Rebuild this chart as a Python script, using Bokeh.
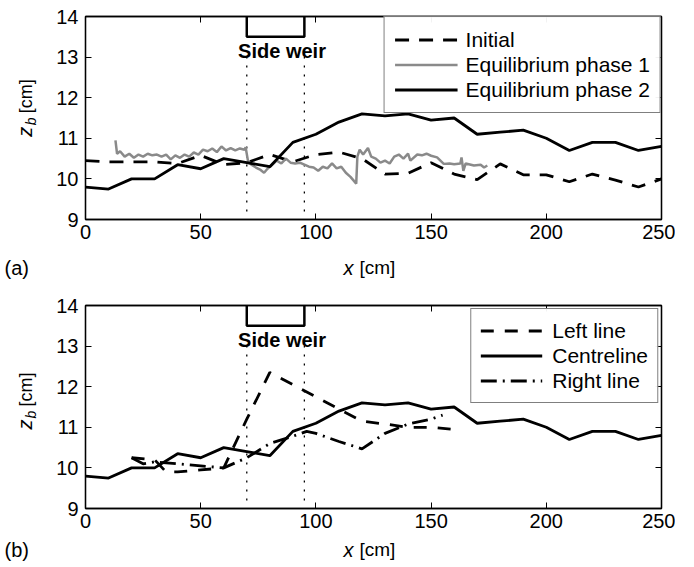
from math import pi
from bokeh.plotting import figure
from bokeh.layouts import column, row
from bokeh.models import Label, LinearAxis, FixedTicker, Range1d
from bokeh.embed import file_html
from bokeh.resources import INLINE

FONT = "Liberation Sans"

# ---------------- data ----------------
x_ticks = [0, 50, 100, 150, 200, 250]
y_ticks = [9, 10, 11, 12, 13, 14]

init_x = [0, 10, 20, 30, 40, 50, 60, 70, 80, 90, 100, 110, 120, 130, 140, 150,
          160, 170, 180, 190, 200, 210, 220, 230, 240, 250]
init_z = [10.45, 10.42, 10.42, 10.42, 10.38, 10.58, 10.35, 10.40, 10.60, 10.42,
          10.60, 10.66, 10.50, 10.12, 10.14, 10.40, 10.12, 9.98, 10.37, 10.10,
          10.10, 9.93, 10.12, 9.97, 9.80, 10.00]

eq1_x = [13.0, 13.7, 15, 17, 19, 21, 23, 25, 27, 29, 31, 33, 35, 37, 39, 41, 43,
         45, 47, 49, 51, 53, 55, 57, 59, 61, 63, 65, 67, 69, 69.5, 70.5, 72, 74,
         76, 77.5, 79, 81, 83, 85, 87, 89, 91, 93, 95, 97, 99, 101, 103, 105, 107,
         109, 111, 113, 115, 116.5, 117.5, 118, 119, 120.5, 122.6, 124, 126, 128,
         130, 132, 134, 136, 138, 140, 141, 144, 146, 148, 150, 152.6, 155.5, 158,
         160, 162.7, 163.2, 164, 165, 168.6, 171.5, 173, 174.4]
eq1_z = [10.95, 10.62, 10.68, 10.55, 10.62, 10.52, 10.60, 10.55, 10.62, 10.58,
         10.60, 10.55, 10.60, 10.48, 10.58, 10.52, 10.60, 10.55, 10.65, 10.60,
         10.72, 10.68, 10.75, 10.66, 10.80, 10.70, 10.76, 10.70, 10.75, 10.72,
         10.78, 10.45, 10.35, 10.28, 10.22, 10.15, 10.25, 10.35, 10.45, 10.38,
         10.50, 10.40, 10.38, 10.40, 10.35, 10.30, 10.28, 10.20, 10.30, 10.26,
         10.38, 10.26, 10.30, 10.15, 10.05, 9.95, 9.88, 10.55, 10.72, 10.60,
         10.76, 10.55, 10.50, 10.40, 10.45, 10.38, 10.55, 10.60, 10.50, 10.62,
         10.45, 10.60, 10.58, 10.62, 10.57, 10.53, 10.37, 10.38, 10.36, 10.38,
         10.53, 10.20, 10.38, 10.33, 10.35, 10.28, 10.33]

eq2_x = [0, 10, 20, 30, 40, 50, 60, 70, 80, 90, 100, 110, 120, 130, 140, 150,
         160, 170, 180, 190, 200, 210, 220, 230, 240, 250]
eq2_z = [9.80, 9.75, 10.00, 10.00, 10.35, 10.25, 10.50, 10.40, 10.30, 10.90,
         11.10, 11.40, 11.60, 11.55, 11.60, 11.45, 11.50, 11.10, 11.15, 11.20,
         11.00, 10.70, 10.90, 10.90, 10.70, 10.80]

left_x = [20, 30, 35, 40, 50, 60, 70, 80, 90, 100, 110, 120, 130, 140, 150, 160]
left_z = [10.25, 10.20, 9.90, 9.90, 9.95, 10.00, 11.20, 12.35, 12.05, 11.75,
          11.45, 11.15, 11.08, 11.00, 11.00, 10.95]

right_x = [20, 25, 30, 40, 50, 60, 70, 80, 90, 96, 100, 110, 120, 130, 140, 150, 155]
right_z = [10.25, 10.10, 10.15, 10.10, 10.05, 10.00, 10.25, 10.60, 10.78, 10.90,
           10.85, 10.65, 10.47, 10.85, 11.08, 11.20, 11.30]

weir_start = 70
weir_end = 95
weir_crest = 13.5
weir_dot_bottom = 9.2
weir_dot_top = 13.0

BLACK = "#000000"
GREY = "#8a8a8a"

YLAB_W = 45
MAIN_W = 630
FRAME_H = 203


def lab(p, x, y, text, size="20px", style="normal", angle=0.0, align="left"):
    p.add_layout(Label(x=x, y=y, text=text, text_font=FONT, text_font_size=size,
                       text_font_style=style, angle=angle, text_align=align,
                       text_baseline="middle", text_color=BLACK))


def strip(width, height):
    f = figure(width=width, height=height, x_range=Range1d(0, width),
               y_range=Range1d(0, height), x_axis_location=None,
               y_axis_location=None, toolbar_location=None, title=None,
               output_backend="svg", min_border=0)
    f.outline_line_color = None
    f.grid.visible = False
    f.background_fill_color = "white"
    f.border_fill_color = "white"
    return f


def ylabel_strip(height, bottom):
    f = strip(YLAB_W, height)
    # z_b [cm], rotated; vertical positions measured from the frame bottom
    rel = FRAME_H + bottom
    lab(f, 24, rel - 132, "z", size="20px", style="italic", angle=pi / 2)
    lab(f, 30, rel - 118, "b", size="14px", style="italic", angle=pi / 2)
    lab(f, 25, rel - 103, "[cm]", size="18px", angle=pi / 2)
    return f


def xlabel_strip(height, mid, tag):
    f = strip(YLAB_W + MAIN_W, height)
    lab(f, 343, mid, "x", size="20px", style="italic")
    lab(f, 359, mid, "[cm]", size="19px")
    lab(f, 4, mid, tag, size="20px")
    return f


def make_panel(border_top, border_bottom, standoff):
    p = figure(frame_width=576, frame_height=FRAME_H, width=MAIN_W,
               height=border_top + FRAME_H + border_bottom, title=None,
               x_range=Range1d(0, 250), y_range=Range1d(9, 14),
               output_backend="svg", toolbar_location=None,
               min_border_left=40, min_border_right=14,
               min_border_top=border_top, min_border_bottom=border_bottom)
    p.grid.visible = False
    p.outline_line_color = BLACK
    p.outline_line_width = 1.3
    p.background_fill_color = "white"
    p.border_fill_color = "white"
    p.xaxis.ticker = FixedTicker(ticks=x_ticks)
    p.yaxis.ticker = FixedTicker(ticks=y_ticks)
    top = LinearAxis(ticker=FixedTicker(ticks=x_ticks),
                     major_label_overrides={t: "" for t in x_ticks})
    right = LinearAxis(ticker=FixedTicker(ticks=y_ticks),
                       major_label_overrides={t: "" for t in y_ticks})
    p.add_layout(top, "above")
    p.add_layout(right, "right")
    for ax in p.axis:
        ax.axis_line_color = BLACK
        ax.axis_line_width = 1.3
        ax.major_tick_in = 6
        ax.major_tick_out = 0
        ax.major_tick_line_color = BLACK
        ax.major_tick_line_width = 1
        ax.minor_tick_line_color = None
        ax.major_label_text_font = FONT
        ax.major_label_text_font_size = "20px"
        ax.major_label_text_color = BLACK
    for ax in (top, right):
        ax.major_label_text_font_size = "1px"
        ax.major_label_standoff = 0
    p.xaxis[0].major_label_standoff = standoff
    p.yaxis[0].major_label_standoff = 7

    # side weir marker
    p.line([weir_start, weir_start, weir_end, weir_end],
           [14, weir_crest, weir_crest, 14], line_color=BLACK, line_width=2.5)
    p.segment(x0=[weir_start, weir_end], y0=[weir_dot_bottom] * 2,
              x1=[weir_start, weir_end], y1=[weir_dot_top] * 2,
              line_color=BLACK, line_width=1.3, line_dash="2 7")
    lab(p, 85.3, 13.14, "Side weir", size="20px", style="bold", align="center")
    return p


def style_legend(leg, margin, padding, glyph_w, standoff):
    leg.location = "top_right"
    leg.margin = margin
    leg.padding = padding
    leg.spacing = 0
    leg.glyph_width = glyph_w
    leg.glyph_height = 25
    leg.label_height = 25
    leg.label_standoff = standoff
    leg.border_line_color = BLACK
    leg.border_line_width = 1.3
    leg.label_text_font = FONT
    leg.label_text_font_size = "21px"
    leg.label_text_color = BLACK


# ---------------- panel (a) ----------------
TOP_A, BOT_A = 16, 31
pa = make_panel(TOP_A, BOT_A, 8)
pa.line(init_x, init_z, line_color=BLACK, line_width=2.8, line_dash="14 10",
        legend_label="Initial")
pa.line(eq1_x, eq1_z, line_color=GREY, line_width=2.5,
        legend_label="Equilibrium phase 1")
pa.line(eq2_x, eq2_z, line_color=BLACK, line_width=2.8,
        legend_label="Equilibrium phase 2")
style_legend(pa.legend[0], 0, 10, 63, 8)

# ---------------- panel (b) ----------------
TOP_B, BOT_B = 25, 29
pb = make_panel(TOP_B, BOT_B, 7)
pb.line(left_x, left_z, line_color=BLACK, line_width=2.8, line_dash="13 11",
        legend_label="Left line")
pb.line(eq2_x, eq2_z, line_color=BLACK, line_width=2.8,
        legend_label="Centreline")
pb.line(right_x, right_z, line_color=BLACK, line_width=2.8, line_dash="16 6 2 6",
        legend_label="Right line")
style_legend(pb.legend[0], 3, 9, 62, 10)

layout = column(
    row(ylabel_strip(TOP_A + FRAME_H + BOT_A, BOT_A), pa, spacing=0),
    xlabel_strip(30, 13, "(a)"),
    row(ylabel_strip(TOP_B + FRAME_H + BOT_B, BOT_B), pb, spacing=0),
    xlabel_strip(28, 16, "(b)"),
    spacing=0,
)
open("out.html", "w").write(file_html(layout, INLINE))
